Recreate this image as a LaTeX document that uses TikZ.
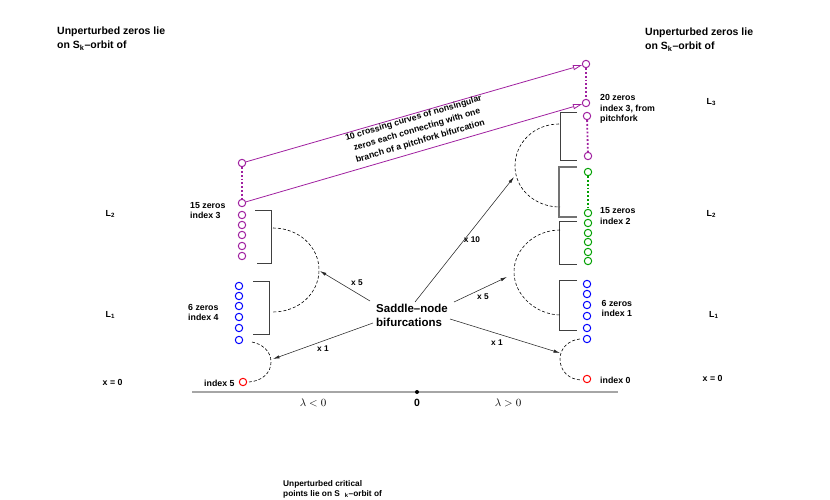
\documentclass[tikz,border=0pt]{standalone}
\usepackage{fontspec}
\setmainfont{Liberation Sans}
\usetikzlibrary{arrows.meta}
\definecolor{zpurple}{RGB}{160,32,160}
\definecolor{zgreen}{RGB}{0,160,0}
\definecolor{zblue}{RGB}{0,0,255}
\definecolor{zred}{RGB}{255,0,0}
\begin{document}
\begin{tikzpicture}[x=1pt,y=-1pt,
  lbl/.style={font=\fontsize{8.8}{10}\selectfont\bfseries, inner sep=0pt, anchor=base west},
  small/.style={font=\fontsize{8.3}{10}\selectfont\bfseries, inner sep=0pt, anchor=base west},
  big/.style={font=\fontsize{10.5}{12}\selectfont\bfseries, inner sep=0pt, anchor=base west},
  sn/.style={font=\fontsize{11.5}{13}\selectfont\bfseries, inner sep=0pt, anchor=base west},
  mult/.style={font=\fontsize{8.3}{10}\selectfont\bfseries, inner sep=0pt},
  zc/.style={circle, draw, line width=1pt, minimum size=7.4pt, inner sep=0pt},
  zdots/.style={dotted, line width=1.8pt},
  bracketline/.style={draw=black!75, line width=0.9pt},
  darc/.style={draw=black, line width=0.6pt, dash pattern=on 3pt off 2pt},
  sarrow/.style={draw=black!85, line width=0.55pt, -{Latex[length=6.5pt,width=3.2pt]}},
  parrow/.style={draw=zpurple, line width=0.8pt, -{Triangle[open,length=9pt,width=5pt]}},
]
\useasboundingbox (0,0) rectangle (830,500);

% ---------------- headings ----------------
\node[big] (hl1) at (57,35) {Unperturbed zeros lie};
\node[big] (hl2) at (57,48.5) {on S\textsubscript{k}–orbit of};
\node[big] (hr1) at (645,36) {Unperturbed zeros lie};
\node[big] (hr2) at (645,49.5) {on S\textsubscript{k}–orbit of};

% ---------------- level labels ----------------
\node[lbl] (lL2) at (105.5,216) {L\textsubscript{2}};
\node[lbl] (lL1) at (105.5,317) {L\textsubscript{1}};
\node[lbl] (lx0) at (102.5,385.5) {x = 0};
\node[lbl] (rL3) at (706.5,104.5) {L\textsubscript{3}};
\node[lbl] (rL2) at (706.5,216.5) {L\textsubscript{2}};
\node[lbl] (rL1) at (709,317.5) {L\textsubscript{1}};
\node[lbl] (rx0) at (702.5,381.7) {x = 0};

% ---------------- left column circles ----------------
\node[zc, draw=zpurple] (lptop) at (242,163) {};
\foreach \y [count=\i] in {203,215,225,235,246,256}
  \node[zc, draw=zpurple] (lp\i) at (242,\y) {};
\foreach \y [count=\i] in {286,296,306,317,328,340}
  \node[zc, draw=zblue] (lb\i) at (239,\y) {};
\node[zc, draw=zred] (lr) at (243,382) {};
\draw[zpurple, zdots] (lptop) -- (lp1);

% ---------------- right column circles ----------------
\node[zc, draw=zpurple] (rptop) at (586,64) {};
\node[zc, draw=zpurple] (rp2) at (586,103) {};
\node[zc, draw=zpurple] (rp3) at (587,116) {};
\node[zc, draw=zpurple] (rp4) at (588,156) {};
\draw[zpurple, zdots] (rptop) -- (rp2);
\draw[zpurple, zdots] (rp3) -- (rp4);
\node[zc, draw=zgreen] (rgtop) at (588,172) {};
\foreach \y [count=\i] in {213,223,233,242,252,261}
  \node[zc, draw=zgreen] (rg\i) at (588,\y) {};
\draw[zgreen, zdots] (rgtop) -- (rg1);
\foreach \y [count=\i] in {284,294,305,316,328,339}
  \node[zc, draw=zblue] (rb\i) at (587,\y) {};
\node[zc, draw=zred] (rr) at (587,379) {};

% ---------------- brackets ----------------
\draw[bracketline] (255,210) -- (271,210) -- (271,263) -- (257,263);
\draw[bracketline] (253,281) -- (269,281) -- (269,334) -- (253,334);
\draw[bracketline] (577,112) -- (560,112) -- (560,160) -- (577,160);
\draw[bracketline, draw=black!55, line width=1.3pt] (577,167) -- (559,167) -- (559,217) -- (577,217);
\draw[bracketline] (577,221) -- (559,221) -- (559,264) -- (577,264);
\draw[bracketline] (577,280) -- (559,280) -- (559,330) -- (577,330);

% ---------------- dashed arcs ----------------
\draw[darc] (273,228) .. controls (299,228) and (319,247) .. (319,270)
            .. controls (319,293) and (299,312) .. (273,312);
\draw[darc] (252,342) .. controls (262,344) and (271,351) .. (271,362)
            .. controls (271,373) and (262,381) .. (249,382);
\draw[darc] (559,124) .. controls (534,124) and (515,143) .. (515,166)
            .. controls (515,189) and (535,207) .. (560,207);
\draw[darc] (560,230) .. controls (535,230) and (514,249) .. (514,272)
            .. controls (514,295) and (536,315) .. (561,315);
\draw[darc] (580,339) .. controls (569,340) and (560,348) .. (560,359)
            .. controls (560,371) and (569,380) .. (582,380);

% ---------------- pitchfork crossing curves ----------------
\draw[parrow] (lptop) -- (rptop);
\draw[parrow] (lp1) -- (rp2);
\node[font=\fontsize{8.7}{12}\selectfont\bfseries, align=center, inner sep=0pt, rotate=16.4] (pf) at (417,130)
  {10 crossing curves of nonsingular\\zeros each connecting with one\\branch of a pitchfork bifurcation};

% ---------------- zero labels ----------------
\node[lbl] (t15a) at (190,208) {15 zeros};
\node[lbl] (t15b) at (190,218.5) {index 3};
\node[lbl] (t6a) at (188,310) {6 zeros};
\node[lbl] (t6b) at (188,320.5) {index 4};
\node[lbl] (ti5) at (204,386) {index 5};
\node[lbl] (t20a) at (600,100.5) {20 zeros};
\node[lbl] (t20b) at (600,111.5) {index 3, from};
\node[lbl] (t20c) at (600,122) {pitchfork};
\node[lbl] (r15a) at (600,213.5) {15 zeros};
\node[lbl] (r15b) at (600,224) {index 2};
\node[lbl] (r6a) at (601.5,306) {6 zeros};
\node[lbl] (r6b) at (601.5,316.5) {index 1};
\node[lbl] (ri0) at (600,383.5) {index 0};

% ---------------- saddle-node ----------------
\node[sn] (sn1) at (376,312) {Saddle–node};
\node[sn] (sn2) at (376,326.5) {bifurcations};
\coordinate (sA) at (370,301);
\coordinate (sB) at (373,323);
\coordinate (sC) at (415,302);
\coordinate (sD) at (454,302);
\coordinate (sE) at (450,319);
\coordinate (eA) at (320,271);
\coordinate (eB) at (273,359);
\coordinate (eC) at (514,177);
\coordinate (eD) at (507,277);
\coordinate (eE) at (560,353);
\draw[sarrow] (sA) -- (eA);
\draw[sarrow] (sB) -- (eB);
\draw[sarrow] (sC) -- (eC);
\draw[sarrow] (sD) -- (eD);
\draw[sarrow] (sE) -- (eE);
\node[mult] (m1) at (357,283) {x 5};
\node[mult] (m2) at (323,348.5) {x 1};
\node[mult] (m3) at (472,240) {x 10};
\node[mult] (m4) at (483,297) {x 5};
\node[mult] (m5) at (497,343) {x 1};

% ---------------- axis ----------------
\coordinate (axL) at (192,392);
\coordinate (axR) at (618,392);
\draw[draw=black!35, line width=1.6pt] (axL) -- (axR);
\node[circle, fill=black, inner sep=0pt, minimum size=4pt] (orig) at (417,392) {};
\node[font=\fontsize{10.5}{12}\selectfont\bfseries, inner sep=0pt] (zero) at (417,403) {0};
\node[font=\fontsize{11}{12}\selectfont, inner sep=0pt] (lneg) at (313,403) {$\lambda<0$};
\node[font=\fontsize{11}{12}\selectfont, inner sep=0pt] (lpos) at (508,403) {$\lambda>0$};

% ---------------- bottom note ----------------
\node[small] (b1) at (283,486) {Unperturbed critical};
\node[small] (b2) at (283,496.5) {points lie on S\hspace{5pt}\textsubscript{k}–orbit of};
\end{tikzpicture}
\end{document}
